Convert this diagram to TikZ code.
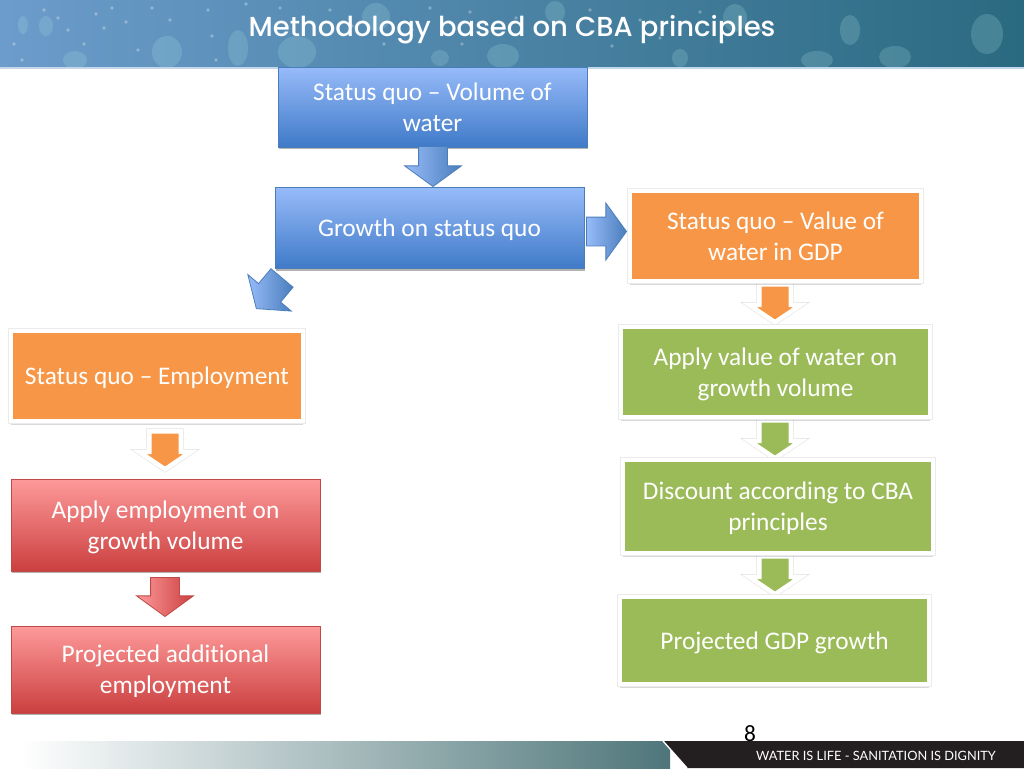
\documentclass[tikz,border=0pt]{standalone}
\usepackage{fontspec}
\setmainfont[Ligatures=NoCommon]{Carlito}
\newfontfamily\titlefont{Poppins Medium}
\newfontfamily\footfont{Lato}
\usetikzlibrary{shapes.arrows,shadows}
\newdimen\px
\px=0.75pt
\definecolor{headleft}{HTML}{6C9CCB}
\definecolor{headright}{HTML}{2A6A80}
\definecolor{dropcolor}{HTML}{A8DDE0}
\definecolor{footmid}{HTML}{B2BCBC}
\definecolor{footright}{HTML}{4E767A}
\definecolor{orangebox}{HTML}{F79646}
\definecolor{greenbox}{HTML}{9BBB59}
\definecolor{blueline}{HTML}{4A7EBB}
\definecolor{redline}{HTML}{BE4B48}
\definecolor{footdark}{HTML}{231F20}
\definecolor{bluetop}{HTML}{97BBF9}
\definecolor{bluemid}{HTML}{7FA9EC}
\definecolor{bluebot}{HTML}{3F7AC8}
\definecolor{redtop}{HTML}{FE9A9A}
\definecolor{redmid}{HTML}{E87474}
\definecolor{redbot}{HTML}{CB3F3F}
\tikzset{
    thinshadow/.style={general shadow={shadow xshift=0.4pt,shadow yshift=-1.6pt,opacity=0.3,fill=black}},
    softshadow/.style={
        general shadow={shadow yshift=-3pt,opacity=0.15,fill=black},
        preaction={draw=black!8,line width=4.4pt}},
    arrowshadow/.style={preaction={draw=black!12,line width=4.2pt}},
    boxtext/.style={text=white,font=\fontsize{19pt}{23.3pt}\selectfont,align=center,inner sep=0pt,text depth=0pt},
    bluebox/.style={boxtext,draw=blueline,line width=0.6pt,top color=bluetop,middle color=bluemid,bottom color=bluebot,thinshadow},
    redbox/.style={boxtext,draw=redline,line width=0.6pt,top color=redtop,middle color=redmid,bottom color=redbot,thinshadow},
    orangeflat/.style={boxtext,draw=white,line width=3.4pt,fill=orangebox,softshadow},
    greenflat/.style={boxtext,draw=white,line width=3.4pt,fill=greenbox,softshadow},
    flowarrow/.style={single arrow,anchor=tip,inner xsep=0pt},
    bluearrow/.style={flowarrow,draw=blueline,line width=0.6pt,left color=bluetop,right color=blueline,single arrow tip angle=108,inner ysep=14\px,single arrow head extend=14\px},
    redarrow/.style={flowarrow,draw=redline,line width=0.6pt,left color=redtop,right color=redbot,single arrow tip angle=108,inner ysep=14\px,single arrow head extend=14\px},
    orangearrow/.style={flowarrow,draw=white,line width=3.4pt,fill=orangebox,arrowshadow,single arrow tip angle=112,inner ysep=13.5\px,single arrow head extend=10\px},
    greenarrow/.style={flowarrow,draw=white,line width=3.4pt,fill=greenbox,arrowshadow,single arrow tip angle=112,inner ysep=13.5\px,single arrow head extend=10\px},
}
\begin{document}
\begin{tikzpicture}[x=1\px,y=-1\px]
    \useasboundingbox (0,0) rectangle (1024,768);
    \fill[white] (0,0) rectangle (1024,768);

    % header band
    \shade[left color=headleft,right color=headright] (0,0) rectangle (1024,68);
    \foreach \dx/\dy/\rx/\ry in {167/52/15/16,297/52/19/16,75/60/12/9,503/56/16/12,895/57/16/11,987/34/16/20,817/60/16/9,23/25/5/9,46/26/7/10,376/17/14/14,735/18/12/14,555/12/10/11,680/58/8/9,238/48/10/18,440/58/9/8,850/30/10/15}
        \fill[dropcolor,opacity=0.22] (\dx,\dy) ellipse ({\rx\px} and {\ry\px});
    \foreach \dx/\dy in {14/44,22/60,44/10,58/18,68/30,84/44,96/14,104/28,112/8,126/22,138/50,152/8,170/20,208/10,212/36,216/60,246/4,280/8,330/10,352/26,384/44,412/30,430/8,462/44,470/12,516/18,590/10,612/46,640/20,660/38,700/12,722/42,760/30}
        \fill[white,opacity=0.3] (\dx,\dy) circle (1.8\px);
    \draw[white!60!headleft,line width=0.8pt] (0,68) -- (1024,68);
    \node[text=white,font=\titlefont\fontsize{20.6pt}{22pt}\selectfont,inner sep=0pt] (title) at (512,30) {Methodology based on CBA principles};

    % footer band
    \shade[left color=white,middle color=footmid,right color=footright] (20,741) rectangle (670,768);
    \fill[footdark] (663,741) -- (1024,741) -- (1024,768) -- (687,768) -- cycle;
    \draw[white,line width=1pt] (663,741) -- (687,768);
    \node[text=white,font=\footfont\fontsize{9.6pt}{12pt}\selectfont,inner sep=0pt] (slogan) at (876,755.5) {WATER IS LIFE - SANITATION IS DIGNITY};
    \node[text=black,font=\fontsize{17.5pt}{20pt}\selectfont,inner sep=0pt] (page) at (750,734) {8};

    % arrows
    \node[orangearrow,minimum height=38\px,rotate=-90] (valapply) at (775,325) {};
    \node[greenarrow,minimum height=38\px,rotate=-90] (applydisc) at (775,461) {};
    \node[greenarrow,minimum height=38\px,rotate=-90] (discgdp) at (775,597) {};
    \node[orangearrow,minimum height=38\px,rotate=-90] (empapply) at (165,472) {};

    % boxes
    \node[bluebox,minimum width=309\px,minimum height=80\px] (volume) at (432.5,107) {Status quo -- Volume of\\water};
    \node[bluebox,minimum width=309\px,minimum height=81\px] (growth) at (429.5,228) {Growth on status quo};
    \node[orangeflat,minimum width=291\px,minimum height=90\px] (value) at (775.5,236) {Status quo -- Value of\\water in GDP};
    \node[greenflat,minimum width=309\px,minimum height=90\px] (apply) at (775.5,372) {Apply value of water on\\growth volume};
    \node[greenflat,minimum width=310\px,minimum height=93\px] (discount) at (778,506.5) {Discount according to CBA\\principles};
    \node[greenflat,minimum width=309\px,minimum height=87\px] (gdp) at (774.5,640.5) {Projected GDP growth};
    \node[orangeflat,minimum width=292\px,minimum height=90\px] (employ) at (157,376) {Status quo -- Employment};
    \node[redbox,minimum width=309\px,minimum height=92\px] (applyemp) at (165.5,525) {Apply employment on\\growth volume};
    \node[redbox,minimum width=309\px,minimum height=87\px] (addemp) at (165.5,669.5) {Projected additional\\employment};

    \node[bluearrow,minimum height=40\px,rotate=-90] (volgrowth) at (433,187) {};
    \node[bluearrow,minimum height=40\px] (growthval) at (627,231.5) {};
    \node[bluearrow,minimum height=40\px,rotate=230] (growthemp) at (256,309) {};
    \node[redarrow,minimum height=39\px,rotate=-90] (applyadd) at (165,617) {};
\end{tikzpicture}
\end{document}
